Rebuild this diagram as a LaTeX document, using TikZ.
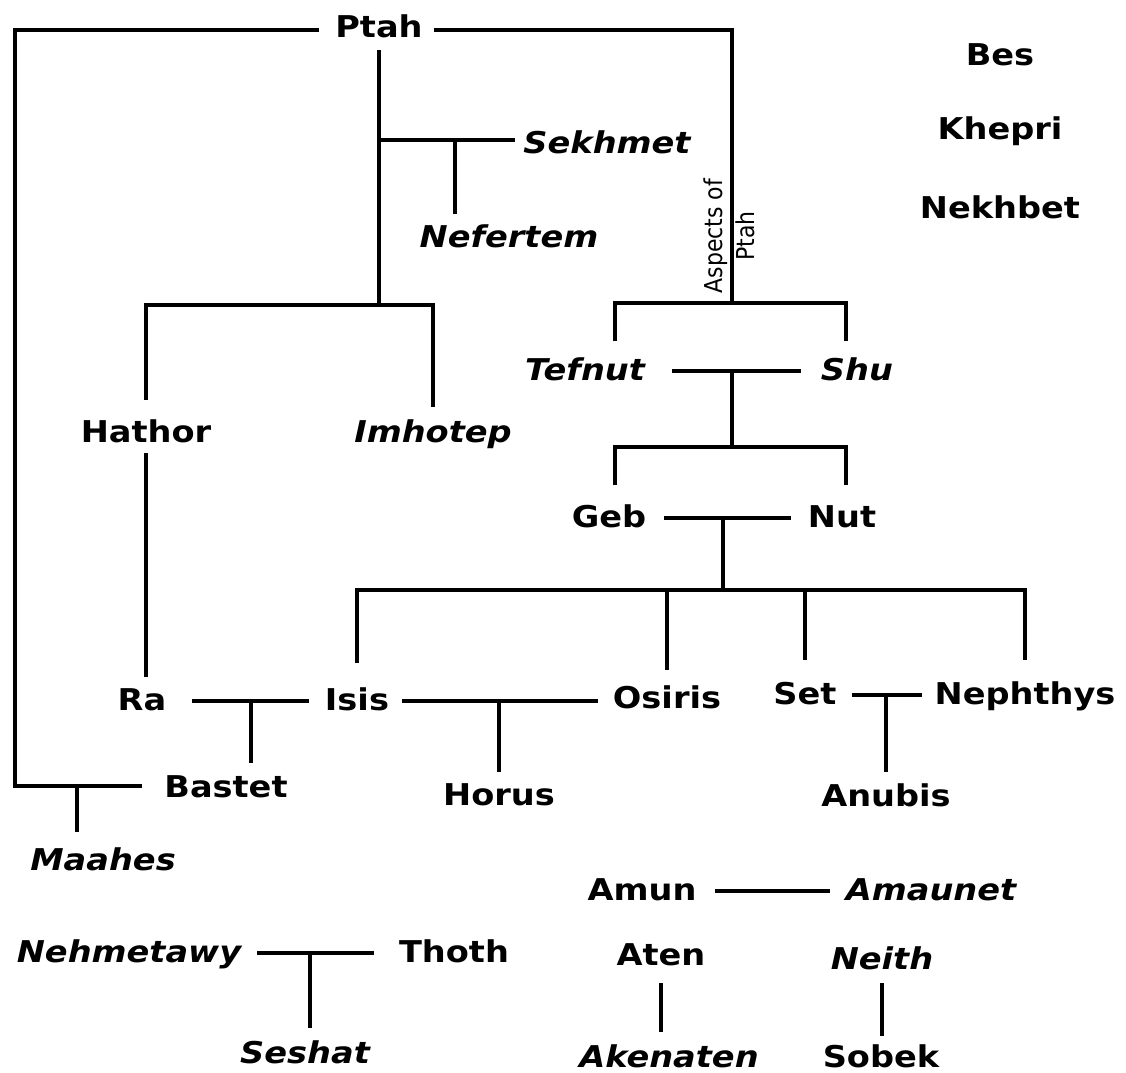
\documentclass[tikz,border=0pt]{standalone}
\usepackage{graphicx}
\usepackage{fontspec}
\setmainfont{DejaVu Sans}[FakeStretch=1.12]
\newfontfamily\notefont{DejaVu Sans}
\begin{document}
\begin{tikzpicture}[x=1pt,y=-1pt,
  deity/.style={font=\fontsize{30}{36}\selectfont\bfseries, inner sep=0pt, outer sep=0pt,
                text height=18pt, text depth=0pt, anchor=base},
  deityi/.style={deity, font=\fontsize{30}{36}\selectfont\bfseries\itshape},
  tie/.style={line width=3.4pt, black}]
% canvas
\fill[white] (0,0) rectangle (1126,1072);
\useasboundingbox (0,0) rectangle (1126,1072);

% deities
\node[deity]  (ptah)      at (379,37)   {Ptah};
\node[deity]  (bes)       at (1000,65)  {Bes};
\node[deity]  (khepri)    at (1000,139) {Khepri};
\node[deity]  (nekhbet)   at (1000,218) {Nekhbet};
\node[deityi] (sekhmet)   at (607,153)  {Sekhmet};
\node[deityi] (nefertem)  at (509,247)  {Nefertem};
\node[deity]  (hathor)    at (146,442)  {Hathor};
\node[deityi] (imhotep)   at (433,442)  {Imhotep};
\node[deityi] (tefnut)    at (585,380)  {Tefnut};
\node[deityi] (shu)       at (857,380)  {Shu};
\node[deity]  (geb)       at (609,527)  {Geb};
\node[deity]  (nut)       at (842,527)  {Nut};
\node[deity]  (ra)        at (142,710)  {Ra};
\node[deity]  (isis)      at (357,710)  {Isis};
\node[deity]  (osiris)    at (667,708)  {Osiris};
\node[deity]  (set)       at (805,704)  {Set};
\node[deity]  (nephthys)  at (1025,704) {Nephthys};
\node[deity]  (bastet)    at (226,797)  {Bastet};
\node[deity]  (horus)     at (499,805)  {Horus};
\node[deity]  (anubis)    at (886,806)  {Anubis};
\node[deityi] (maahes)    at (103,870)  {Maahes};
\node[deity]  (amun)      at (642,900)  {Amun};
\node[deityi] (amaunet)   at (931,900)  {Amaunet};
\node[deityi] (nehmetawy) at (129,962)  {Nehmetawy};
\node[deity]  (thoth)     at (454,962)  {Thoth};
\node[deity]  (aten)      at (661,965)  {Aten};
\node[deityi] (neith)     at (882,969)  {Neith};
\node[deityi] (seshat)    at (305,1063) {Seshat};
\node[deityi] (akenaten)  at (669,1067) {Akenaten};
\node[deity]  (sobek)     at (881,1067) {Sobek};

% rotated note on the right arm of Ptah
\node[font=\notefont\fontsize{22}{29}\selectfont, rotate=90, inner sep=0pt] (aspects) at (732,236)
  {\scalebox{1}[1.12]{\begin{tabular}{@{}c@{}}Aspects of\\Ptah\end{tabular}}};

% junction points
\coordinate (railT)    at (15,30);
\coordinate (railB)    at (15,786);
\coordinate (ptahfork) at (379,305);
\coordinate (sekbar)   at (379,140);
\coordinate (nefstem)  at (455,140);
\coordinate (aspfork)  at (732,303);
\coordinate (aspL)     at (615,341);
\coordinate (aspR)     at (846,341);
\coordinate (tsbar)    at (732,372);
\coordinate (gnfork)   at (732,447);
\coordinate (gnL)      at (615,485);
\coordinate (gnR)      at (846,485);
\coordinate (gnbar)    at (723,517);
\coordinate (kids)     at (723,590);
\coordinate (ribar)    at (251,701);
\coordinate (maastem)  at (77,786);
\coordinate (ntbar)    at (310,954);

% Ptah: left rail down to Bastet, with Maahes
\draw[tie, shorten <=16pt, shorten >=22pt] (railT -| ptah.west) -- (railT) -- (railB) -- (railB -| bastet.west);
\draw[tie, shorten >=20pt] (maastem) -- (maastem |- maahes.north);
% Ptah: right arm to Tefnut and Shu
\draw[tie, shorten <=11pt] (railT -| ptah.east) -| (aspfork);
\draw[tie] (aspL) |- (aspfork) -| (aspR);
% Ptah: stem, Sekhmet, Nefertem, Hathor, Imhotep
\draw[tie, shorten <=13pt] (ptah.south) -- (ptahfork);
\draw[tie, shorten >=8pt] (sekbar) -- (sekbar -| sekhmet.west);
\draw[tie, shorten >=15pt] (nefstem) -- (nefstem |- nefertem.north);
\draw[tie, shorten <=24pt, shorten >=17pt] (hathor.north) |- (ptahfork) -| (imhotep.north);
\draw[tie, shorten <=11pt, shorten >=15pt] (hathor.south) -- (hathor.south |- ra.north);
% Tefnut and Shu, Geb and Nut
\draw[tie, shorten <=27pt, shorten >=20pt] (tefnut.east) -- (tefnut.east -| shu.west);
\draw[tie] (tsbar) -- (gnfork);
\draw[tie] (gnL) |- (gnfork) -| (gnR);
\draw[tie, shorten <=18pt, shorten >=17pt] (geb.east) -- (geb.east -| nut.west);
\draw[tie] (gnbar) -- (kids);
% children of Geb and Nut
\draw[tie, shorten <=29pt, shorten >=26pt] (isis.north) |- (kids) -| (nephthys.north);
\draw[tie, shorten >=20pt] (kids -| osiris) -- (osiris.north);
\draw[tie, shorten >=26pt] (kids -| set) -- (set.north);
% couples and their offspring
\draw[tie, shorten <=26pt, shorten >=16pt] (ra.east) -- (isis.west);
\draw[tie, shorten >=16pt] (ribar) -- (ribar |- bastet.north);
\draw[tie, shorten <=13pt, shorten >=15pt] (isis.east) -- (isis.east -| osiris.west);
\draw[tie, shorten >=15pt] (horus |- isis.east) -- (horus.north);
\draw[tie, shorten <=15pt, shorten >=13pt] (set.east) -- (set.east -| nephthys.west);
\draw[tie, shorten >=16pt] (anubis |- set.east) -- (anubis.north);
\draw[tie, shorten <=16pt, shorten >=25pt] (nehmetawy.east) -- (nehmetawy.east -| thoth.west);
\draw[tie, shorten >=17pt] (ntbar) -- (ntbar |- seshat.north);
\draw[tie, shorten <=19pt, shorten >=16pt] (amun.east) -- (amun.east -| amaunet.west);
\draw[tie, shorten <=18pt, shorten >=17pt] (aten.south) -- (aten.south |- akenaten.north);
\draw[tie, shorten <=14pt, shorten >=13pt] (neith.south) -- (neith.south |- sobek.north);
\end{tikzpicture}
\end{document}
